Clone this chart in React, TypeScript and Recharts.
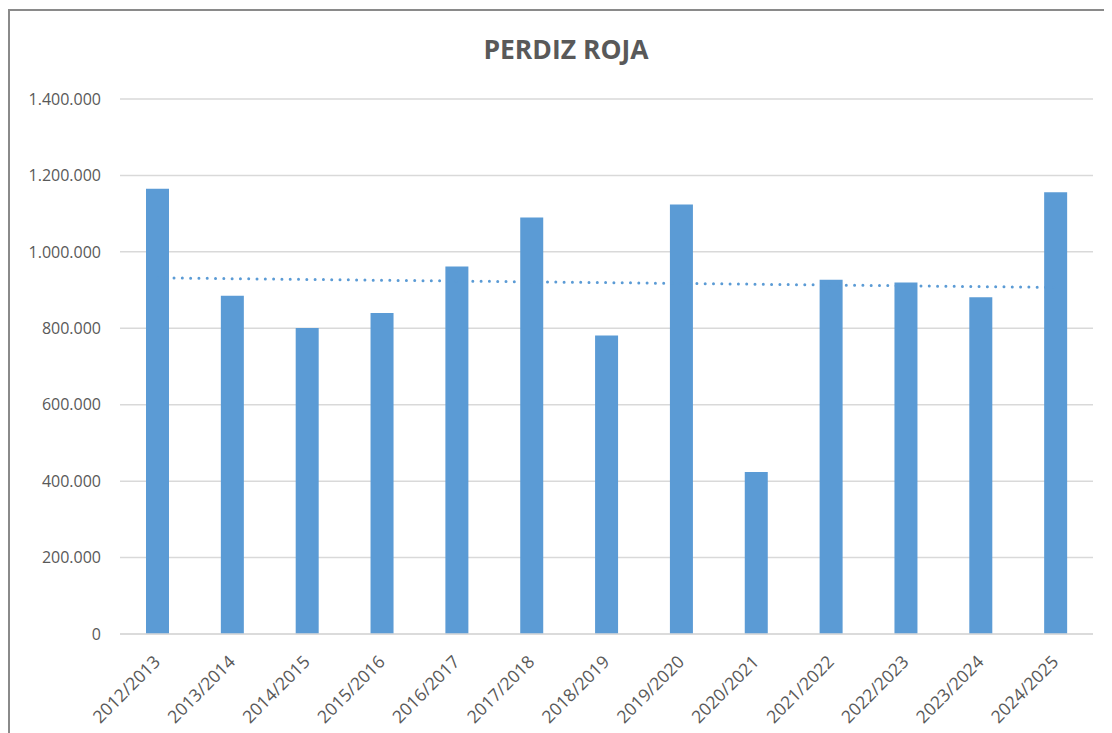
import React from 'react';
import { ComposedChart, Bar, Line, XAxis, YAxis, CartesianGrid } from 'recharts';

// temporadas
const seasons = [
  '2012/2013', '2013/2014', '2014/2015', '2015/2016', '2016/2017', '2017/2018', '2018/2019',
  '2019/2020', '2020/2021', '2021/2022', '2022/2023', '2023/2024', '2024/2025',
];
const captures = [
  1165000, 885000, 801000, 840000, 962000, 1090000, 781000,
  1124000, 424000, 927000, 920000, 881000, 1156000,
];
// linear trendline, read at both ends
const trendEnds = [932000, 907000];
const yTicks = [0, 200000, 400000, 600000, 800000, 1000000, 1200000, 1400000];

const BLUE = '#5B9BD5';
const TEXT = '#595959';
const FONT = '"Open Sans", sans-serif';

const data = seasons.map((season, i) => ({
  season,
  value: captures[i],
  trend: i === 0 ? trendEnds[0] : i === seasons.length - 1 ? trendEnds[1] : null,
}));

const fmt = (v: number) => String(v).replace(/\B(?=(\d{3})+(?!\d))/g, '.');

const SeasonTick = (props: any) => {
  const { x, y, payload } = props;
  const ax = x + 4;
  const ay = y + 21;
  return (
    <text
      x={ax}
      y={ay}
      transform={`rotate(-45 ${ax} ${ay})`}
      textAnchor="end"
      fill={TEXT}
      fontSize={17.5}
      fontFamily={FONT}
    >
      {payload.value}
    </text>
  );
};

const App: React.FC = () => {
  return (
    <div style={{ position: 'relative', width: 1104, height: 725, fontFamily: FONT }}>
      <div
        style={{
          position: 'absolute', left: 0, top: 1, width: 1104, height: 724,
          borderLeft: '2px solid #8a8a8a', borderTop: '2px solid #8a8a8a', boxSizing: 'border-box',
        }}
      />
      <div
        style={{
          position: 'absolute', left: 0, top: 23, width: 1116, textAlign: 'center',
          fontSize: 26.5, fontWeight: 700, color: TEXT,
        }}
      >
        PERDIZ ROJA
      </div>
      <div style={{ position: 'absolute', left: 0, top: 0 }}>
        <ComposedChart
          width={1104}
          height={725}
          data={data}
          margin={{ top: 91, right: 19, bottom: 0, left: 0 }}
        >
          <CartesianGrid vertical={false} stroke="#d9d9d9" strokeWidth={1.5} />
          <XAxis
            dataKey="season"
            height={99}
            interval={0}
            tickLine={false}
            axisLine={{ stroke: '#d9d9d9', strokeWidth: 1.5 }}
            tick={<SeasonTick />}
          />
          <YAxis
            width={112}
            domain={[0, 1400000]}
            ticks={yTicks}
            tickFormatter={fmt}
            axisLine={false}
            tickLine={false}
            tickMargin={13}
            tick={{ fill: TEXT, fontSize: 16, fontFamily: FONT }}
          />
          <Bar dataKey="value" fill={BLUE} barSize={23} isAnimationActive={false} />
          <Line
            dataKey="trend"
            stroke={BLUE}
            strokeWidth={3}
            strokeLinecap="round"
            strokeDasharray="0 8.3"
            dot={false}
            connectNulls
            isAnimationActive={false}
          />
        </ComposedChart>
      </div>
    </div>
  );
};

export default App;
